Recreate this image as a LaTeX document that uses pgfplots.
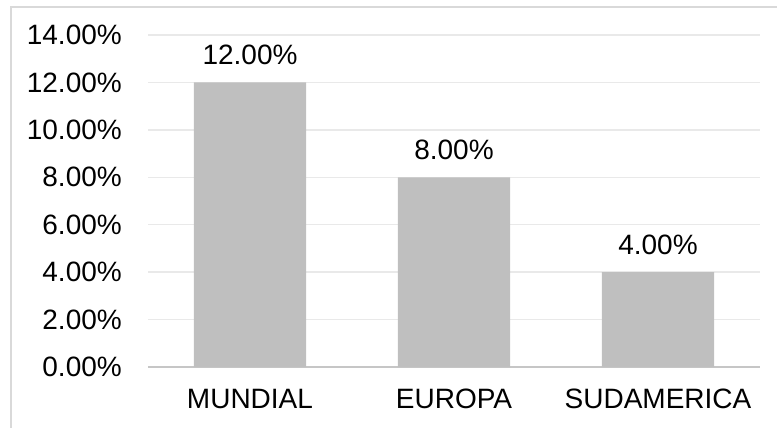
\documentclass[border=0pt]{standalone}
\usepackage{pgfplots}
\pgfplotsset{compat=1.18}
\usepackage{fontspec}
\setmainfont{Liberation Sans}
\definecolor{bargray}{HTML}{BFBFBF}
\definecolor{gridgray}{HTML}{E9E9E9}
\definecolor{bordergray}{HTML}{D9D9D9}
\definecolor{axisgray}{HTML}{C6C6C6}
\pgfplotsset{/pgf/number format/assume math mode=true}
\begin{document}
\begin{tikzpicture}
\useasboundingbox (-148bp,-61bp) rectangle (629bp,367bp);
\draw[bordergray, line width=1.5bp] (-137bp,-61bp) -- (-137bp,360bp) -- (629bp,360bp);
\begin{axis}[
  at={(0,0)}, anchor=south west,
  scale only axis, width=612bp, height=332bp,
  xmin=-0.5, xmax=2.5, ymin=0, ymax=14,
  xtick={0,1,2}, xticklabels={MUNDIAL,EUROPA,SUDAMERICA},
  ytick={0,2,...,14},
  yticklabel={\pgfmathprintnumber[fixed,fixed zerofill,precision=2]{\tick}\%},
  ymajorgrids, grid style={gridgray, line width=1.5bp},
  axis x line*=bottom, axis y line*=left,
  x axis line style={axisgray, line width=2bp, -},
  y axis line style={draw=none},
  major tick length=0pt, tick style={draw=none},
  tick label style={font=\fontsize{28bp}{33bp}\selectfont, text=black},
  yticklabel style={anchor=east, inner sep=0pt, xshift=-26bp},
  xticklabel style={anchor=north, inner sep=0pt, yshift=-22bp},
  bar width=0.55,
  nodes near coords={\pgfmathprintnumber[fixed,fixed zerofill,precision=2]{\pgfplotspointmeta}\%},
  nodes near coords style={anchor=south, inner sep=0pt, yshift=17bp, font=\fontsize{28bp}{33bp}\selectfont, text=black},
]
\addplot[ybar, fill=bargray, draw=none] coordinates {(0,12) (1,8) (2,4)};
\end{axis}
\end{tikzpicture}
\end{document}
